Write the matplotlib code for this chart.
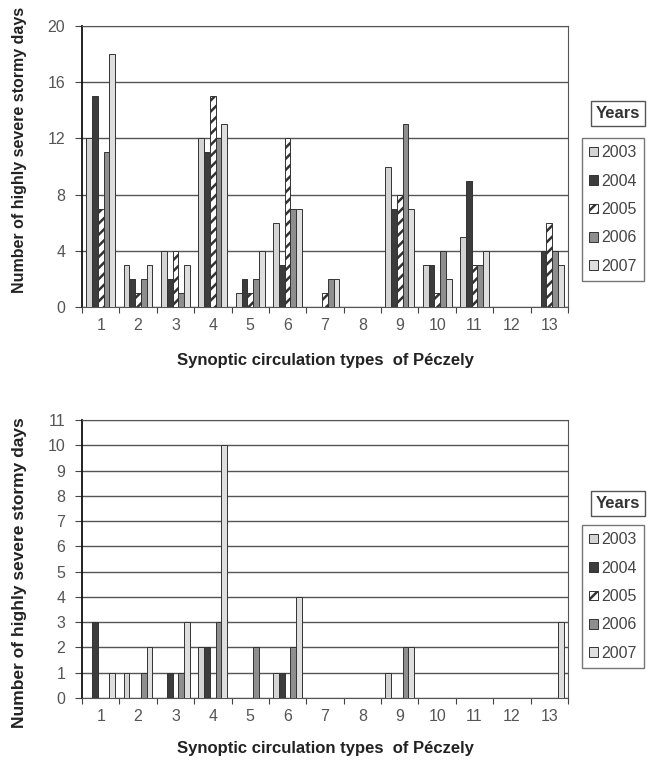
import numpy as np
import matplotlib
matplotlib.use("Agg")
import matplotlib.pyplot as plt

plt.rcParams["font.family"] = ["Liberation Sans", "DejaVu Sans"]
plt.rcParams["hatch.linewidth"] = 1.8

types = list(range(1, 14))
years = ["2003", "2004", "2005", "2006", "2007"]

# upper panel
top_2003 = [12, 3, 4, 12, 1, 6, 0, 0, 10, 3, 5, 0, 0]
top_2004 = [15, 2, 2, 11, 2, 3, 0, 0, 7, 3, 9, 0, 4]
top_2005 = [7, 1, 4, 15, 1, 12, 1, 0, 8, 1, 3, 0, 6]
top_2006 = [11, 2, 1, 12, 2, 7, 2, 0, 13, 4, 3, 0, 4]
top_2007 = [18, 3, 3, 13, 4, 7, 2, 0, 7, 2, 4, 0, 3]

# lower panel
bot_2003 = [0, 1, 0, 2, 0, 1, 0, 0, 1, 0, 0, 0, 0]
bot_2004 = [3, 0, 1, 2, 0, 1, 0, 0, 0, 0, 0, 0, 0]
bot_2005 = [0, 0, 0, 0, 0, 0, 0, 0, 0, 0, 0, 0, 0]
bot_2006 = [0, 1, 1, 3, 2, 2, 0, 0, 2, 0, 0, 0, 0]
bot_2007 = [1, 2, 3, 10, 0, 4, 0, 0, 2, 0, 0, 0, 3]

styles = [
    dict(color="#d4d4d4", hatch=None),
    dict(color="#3c3c3c", hatch=None),
    dict(color="white", hatch="///"),
    dict(color="#8e8e8e", hatch=None),
    dict(color="#dedede", hatch=None),
]

fig = plt.figure(figsize=(6.48, 7.62), dpi=100)


def panel(rect, series, ymax, ystep, ylab_size, ylab_y, xlab_y, years_y, leg_y):
    ax = fig.add_axes(rect)
    x = np.array(types)
    w = 1 / 6.5
    bars = []
    for k, (vals, st) in enumerate(zip(series, styles)):
        b = ax.bar(x + (k - 2) * w, vals, w, color=st["color"], hatch=st["hatch"],
                   edgecolor="#333333", linewidth=0.7, label=years[k], zorder=3)
        bars.append(b)
    ax.set_xlim(0.5, 13.5)
    ax.set_ylim(0, ymax)
    ax.set_yticks(np.arange(0, ymax + 0.1, ystep))
    ax.yaxis.grid(True, color="#555555", linewidth=1.0, zorder=0)
    ax.set_axisbelow(True)
    ax.set_xticks(np.arange(0.5, 14, 1))
    ax.set_xticklabels([])
    ax.set_xticks(x, minor=True)
    ax.set_xticklabels([str(t) for t in types], minor=True)
    ax.tick_params(axis="x", which="major", length=4, direction="out", color="#444444")
    ax.tick_params(axis="x", which="minor", length=0, pad=8, labelsize=11.5, labelcolor="#555555")
    ax.tick_params(axis="y", length=5, direction="out", pad=7, labelsize=11.5,
                   labelcolor="#555555", color="#444444")
    for s in ["top", "right", "bottom"]:
        ax.spines[s].set_color("#555555")
    ax.spines["left"].set_color("#111111")
    ax.spines["left"].set_linewidth(1.3)
    ax.set_ylabel("Number of highly severe stormy days", fontsize=ylab_size,
                  fontweight="bold", color="#222222")
    ax.yaxis.set_label_coords(-0.113, ylab_y)
    ax.set_xlabel("Synoptic circulation types  of Péczely", fontsize=12,
                  fontweight="bold", color="#222222")
    ax.xaxis.set_label_coords(0.5, xlab_y)
    fig.text(618 / 648, years_y, "Years", ha="center", va="center", fontsize=12,
             fontweight="bold", color="#333333",
             bbox=dict(boxstyle="square,pad=0.3", fc="white", ec="#555555", lw=1.0))
    leg = ax.legend(handles=bars, loc="upper left", bbox_to_anchor=(582 / 648, leg_y),
                    bbox_transform=fig.transFigure, fontsize=11.5, frameon=True,
                    fancybox=False, edgecolor="#555555", handlelength=0.55,
                    handleheight=0.55, handletextpad=0.2, labelspacing=0.84,
                    borderpad=0.45, borderaxespad=0)
    for t in leg.get_texts():
        t.set_color("#444444")
    return ax


panel([82 / 648, 1 - 307 / 762, 486 / 648, 281 / 762],
      [top_2003, top_2004, top_2005, top_2006, top_2007], 20, 4,
      11.5, 0.56, -0.165, 1 - 113 / 762, 1 - 138 / 762)
panel([82 / 648, 1 - 698 / 762, 486 / 648, 278 / 762],
      [bot_2003, bot_2004, bot_2005, bot_2006, bot_2007], 11, 1,
      12.5, 0.45, -0.155, 1 - 503 / 762, 1 - 525 / 762)

fig.savefig("out.png", dpi=100)
